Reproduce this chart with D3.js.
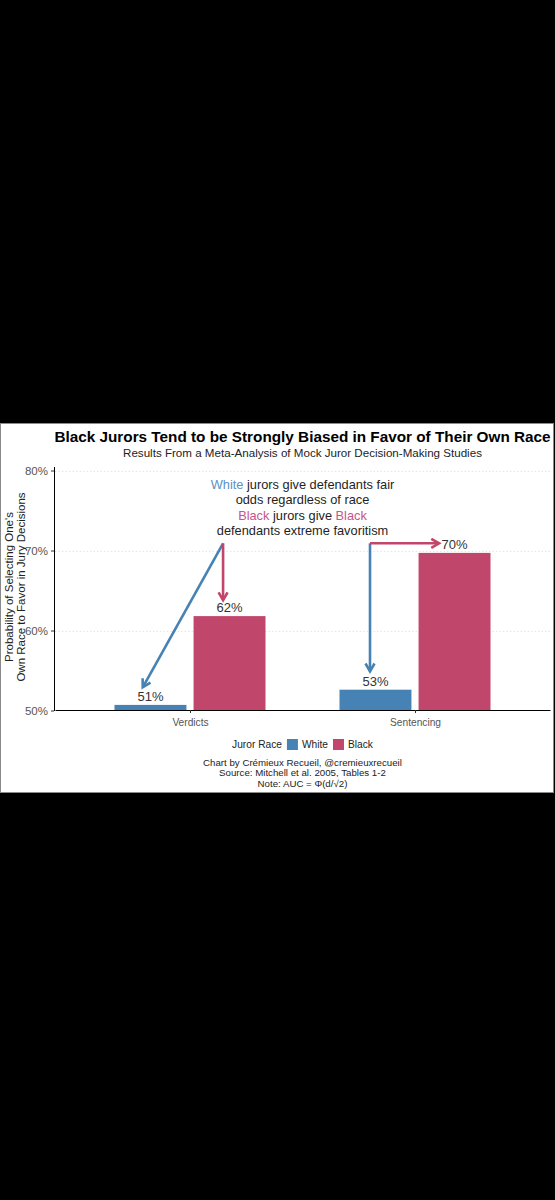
<!DOCTYPE html>
<html>
<head>
<meta charset="utf-8">
<script src="https://cdn.jsdelivr.net/npm/d3@7"></script>
<style>
body { margin: 0; background: #000; }
svg { display: block; }
text { font-family: "Liberation Sans", Arial, sans-serif; }
</style>
</head>
<body>
<div id="chart"></div>
<script>
// data
let categories = ["Verdicts", "Sentencing"];
let races = ["White", "Black"];
let whiteValues = [50.7, 52.6];
let blackValues = [61.8, 69.7];
let yTicks = [50, 60, 70, 80];

let title = "Black Jurors Tend to be Strongly Biased in Favor of Their Own Race";
let subtitle = "Results From a Meta-Analysis of Mock Juror Decision-Making Studies";
let yTitle = ["Probability of Selecting One's", "Own Race to Favor in Jury Decisions"];
let legendTitle = "Juror Race";
let captionLines = [
    "Chart by Crémieux Recueil, @cremieuxrecueil",
    "Source: Mitchell et al. 2005, Tables 1-2",
    "Note: AUC = Φ(d/√2)"
];
let noteLines = [
    [["White", "w"], [" jurors give defendants fair", "k"]],
    [["odds regardless of race", "k"]],
    [["Black", "b"], [" jurors give ", "k"], ["Black", "b"]],
    [["defendants extreme favoritism", "k"]]
];

// arrows, in data units (x = category index 1..2, y = percent)
let arrows = [
    {race: "White", from: [1.147, 70.9], to: [0.79, 52.9]},
    {race: "Black", from: [1.147, 70.9], to: [1.147, 63.8]},
    {race: "White", from: [1.8, 70.9], to: [1.8, 54.9]},
    {race: "Black", from: [1.8, 70.9], to: [2.107, 70.9]}
];

let colors = {White: "#4682b4", Black: "#c1466b"};
let textColors = {w: "#5b90c3", b: "#c9548a", k: "#1e1e1e"};

let data = categories.map((c, i) => ({
    category: c,
    values: [{race: "White", value: whiteValues[i]}, {race: "Black", value: blackValues[i]}]
}));

let svg = d3.select('#chart').append('svg')
    .attr('width', 555)
    .attr('height', 1200);

// white card of the screenshot
svg.append('rect')
    .attr('x', 0.5).attr('y', 423.5)
    .attr('width', 553).attr('height', 369)
    .attr('fill', '#fff')
    .attr('stroke', '#8a8a8a');

let x = d3.scalePoint().domain(categories).range([55, 550]).padding(0.6);
let xInner = d3.scaleBand().domain(races).range([-75.5, 75.5]).paddingInner(0.09);
let xUnits = d3.scaleLinear().domain([1, 2]).range([x(categories[0]), x(categories[1])]);
let y = d3.scaleLinear().domain([50, 80.5]).range([710.5, 466.5]);
let center = (55 + 550) / 2;

// grid
svg.append('g').selectAll('line')
    .data(yTicks.slice(1))
    .join('line')
    .attr('x1', 55).attr('x2', 550)
    .attr('y1', d => Math.round(y(d)) + 0.5)
    .attr('y2', d => Math.round(y(d)) + 0.5)
    .attr('stroke', '#e6e6e6')
    .attr('stroke-dasharray', '1.5,2');

// bars
let groups = svg.append('g').selectAll('g')
    .data(data)
    .join('g')
    .attr('transform', d => `translate(${x(d.category)},0)`);

groups.selectAll('rect')
    .data(d => d.values)
    .join('rect')
    .attr('x', d => xInner(d.race))
    .attr('width', xInner.bandwidth())
    .attr('y', d => y(d.value))
    .attr('height', d => y(50) - y(d.value))
    .attr('fill', d => colors[d.race]);

groups.selectAll('text')
    .data(d => d.values)
    .join('text')
    .attr('x', d => xInner(d.race) + xInner.bandwidth() / 2)
    .attr('y', d => y(d.value) - 4)
    .attr('text-anchor', 'middle')
    .attr('font-size', 13)
    .attr('fill', '#333')
    .text(d => Math.round(d.value) + '%');

// axes
let axisY = svg.append('g')
    .attr('transform', 'translate(54,0)')
    .call(d3.axisLeft(y).tickValues(yTicks).tickFormat(d => d + '%').tickSize(3).tickSizeOuter(0));
axisY.select('.domain').attr('stroke', '#000');
axisY.selectAll('.tick line').attr('stroke', '#333');
axisY.selectAll('.tick text')
    .attr('font-size', 11.5)
    .attr('fill', '#555')
    .attr('font-family', null);

let axisX = svg.append('g')
    .attr('transform', 'translate(0,710)')
    .call(d3.axisBottom(x).tickSize(3).tickSizeOuter(0));
axisX.select('.domain').attr('stroke', '#000');
axisX.selectAll('.tick line').attr('stroke', '#333');
axisX.selectAll('.tick text')
    .attr('font-size', 10.2)
    .attr('fill', '#555')
    .attr('dy', '0.95em')
    .attr('font-family', null);

// axis title
svg.append('text')
    .attr('transform', 'translate(13,587) rotate(-90)')
    .attr('text-anchor', 'middle')
    .attr('font-size', 11.5)
    .attr('fill', '#222')
    .selectAll('tspan')
    .data(yTitle)
    .join('tspan')
    .attr('x', 0)
    .attr('dy', (d, i) => i ? 12 : 0)
    .text(d => d);

// titles
svg.append('text')
    .attr('x', center).attr('y', 442)
    .attr('text-anchor', 'middle')
    .attr('font-size', 15.3)
    .attr('font-weight', 'bold')
    .attr('fill', '#000')
    .text(title);

svg.append('text')
    .attr('x', center).attr('y', 457)
    .attr('text-anchor', 'middle')
    .attr('font-size', 11.6)
    .attr('fill', '#222')
    .text(subtitle);

// annotation text
let note = svg.append('g');
noteLines.forEach((line, i) => {
    let t = note.append('text')
        .attr('x', xUnits(1.5))
        .attr('y', y(77.7) + i * 15.3)
        .attr('text-anchor', 'middle')
        .attr('font-size', 12.8)
        .style('white-space', 'pre');
    t.selectAll('tspan')
        .data(line)
        .join('tspan')
        .attr('fill', d => textColors[d[1]])
        .text(d => d[0]);
});

// arrows
function arrowHead(x1, y1, x2, y2, len) {
    let a = Math.atan2(y2 - y1, x2 - x1);
    let p1 = [x2 - len * Math.cos(a - Math.PI / 6), y2 - len * Math.sin(a - Math.PI / 6)];
    let p2 = [x2 - len * Math.cos(a + Math.PI / 6), y2 - len * Math.sin(a + Math.PI / 6)];
    return `M${p1}L${x2},${y2}L${p2}`;
}

let arrowG = svg.append('g')
    .attr('fill', 'none')
    .attr('stroke-width', 2.6);

arrows.forEach(a => {
    let x1 = xUnits(a.from[0]), y1 = y(a.from[1]);
    let x2 = xUnits(a.to[0]), y2 = y(a.to[1]);
    arrowG.append('line')
        .attr('x1', x1).attr('y1', y1)
        .attr('x2', x2).attr('y2', y2)
        .attr('stroke', colors[a.race]);
    arrowG.append('path')
        .attr('d', arrowHead(x1, y1, x2, y2, 9))
        .attr('stroke', colors[a.race])
        .attr('stroke-linejoin', 'miter');
});

// legend
let legend = svg.append('g');
let lt = legend.append('text')
    .attr('x', 0).attr('y', 748)
    .attr('font-size', 10.2)
    .attr('fill', '#222')
    .text(legendTitle);
let pos = lt.node().getComputedTextLength() + 5;
races.forEach(r => {
    legend.append('rect')
        .attr('x', pos).attr('y', 739)
        .attr('width', 11).attr('height', 11)
        .attr('fill', colors[r]);
    pos += 15;
    let t = legend.append('text')
        .attr('x', pos).attr('y', 748)
        .attr('font-size', 10.2)
        .attr('fill', '#222')
        .text(r);
    pos += t.node().getComputedTextLength() + 5;
});
legend.attr('transform', `translate(${center - (pos - 5) / 2},0)`);

// caption
svg.append('g').selectAll('text')
    .data(captionLines)
    .join('text')
    .attr('x', center)
    .attr('y', (d, i) => 766 + i * 10.3)
    .attr('text-anchor', 'middle')
    .attr('font-size', 9.7)
    .attr('fill', '#222')
    .text(d => d);
</script>
</body>
</html>
